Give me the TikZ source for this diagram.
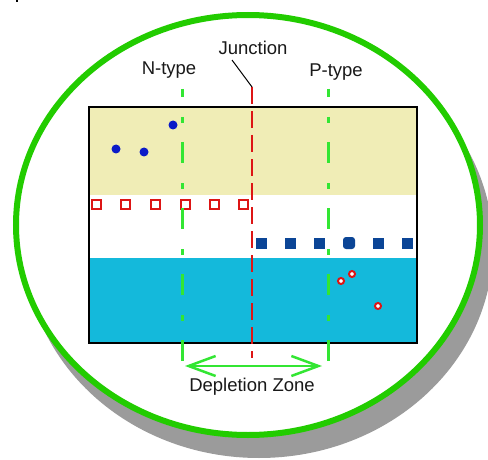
\documentclass[tikz,border=0pt]{standalone}
\usepackage{fontspec}
\setmainfont{Liberation Sans}
\usetikzlibrary{arrows.meta}
\definecolor{ringgreen}{HTML}{22CC00}
\definecolor{linegreen}{HTML}{33E633}
\definecolor{beige}{HTML}{F0EDB6}
\definecolor{cyanband}{HTML}{14B9DB}
\definecolor{holered}{HTML}{DD1515}
\definecolor{ionblue}{HTML}{0B4596}
\definecolor{eblue}{HTML}{0B1BC8}
\definecolor{shadowgray}{HTML}{9B9B9B}
\tikzset{
  lbl/.style={font=\fontsize{18.5}{20}\selectfont, text=black!90, inner sep=0pt, anchor=base},
  holesq/.style={draw=holered, line width=2pt, fill=white, minimum size=9pt, inner sep=0pt},
  ionsq/.style={fill=ionblue, minimum size=11pt, inner sep=0pt},
  electron/.style={circle, fill=eblue, minimum size=9pt, inner sep=0pt},
  hole/.style={circle, draw=holered, line width=2pt, fill=white, minimum size=6pt, inner sep=0pt},
  zoneline/.style={draw=linegreen, line width=3pt, dash pattern=on 21pt off 20pt on 6pt off 19pt, dash phase=13pt},
  junctionline/.style={draw=holered, line width=2.2pt, dash pattern=on 17pt off 7pt},
}
\begin{document}
\begin{tikzpicture}[x=1pt,y=-1pt]
\useasboundingbox (0,0) rectangle (488,460);
% stray mark
\fill[black] (16,0) rectangle (18,2);
% shadow + ring
\fill[shadowgray] (259,246) ellipse [x radius=234, y radius=212];
\draw[ringgreen, line width=6pt, fill=white] (248,225) ellipse [x radius=232, y radius=210];
% bands
\fill[beige] (89,107) rectangle (417,195);
\fill[cyanband] (89,258) rectangle (417,343);
\draw[black, line width=2pt] (89,107) rectangle (417,343);
% hole squares
\foreach \x/\n in {96/1,125/2,155/3,185/4,214/5,243/6}
  \node[holesq] (h\n) at (\x,204) {};
% ion squares
\foreach \x/\n in {261/1,290/2,319/3,378/5,407/6}
  \node[ionsq] (i\n) at (\x,243) {};
\node[ionsq, minimum size=12pt, rounded corners=3pt] (i4) at (349,243) {};
% electrons
\node[electron] (e1) at (116,149) {};
\node[electron] (e2) at (144,152) {};
\node[electron] (e3) at (173,125) {};
% holes
\node[hole] (p1) at (341,281) {};
\node[hole] (p2) at (352,274) {};
\node[hole] (p3) at (378,306) {};
% zone lines
\coordinate (zlt) at (182,89); \coordinate (zlb) at (182,361);
\coordinate (zrt) at (328,89); \coordinate (zrb) at (328,361);
\draw[zoneline] (zlt) -- (zlb);
\draw[zoneline] (zrt) -- (zrb);
% junction line
\coordinate (jt) at (252,87); \coordinate (jb) at (252,358);
\draw[junctionline] (jt) -- (jb);
% labels
\node[lbl] (ntype) at (169,75) {N-type};
\node[lbl] (ptype) at (336,77) {P-type};
\node[lbl] (junc) at (253,55) {Junction};
\node[lbl] (dep) at (252,391) {Depletion Zone};
% leader
\coordinate (leadstart) at (232,60);
\draw[black, line width=1pt] (leadstart) -- (jt);
% depletion arrow
\coordinate (dl) at (185,366); \coordinate (dr) at (322,366);
\draw[linegreen, line width=2.5pt, {Straight Barb[length=27pt,width=20pt,line width=2.5pt]}-{Straight Barb[length=27pt,width=20pt,line width=2.5pt]}] (dl) -- (dr);
\end{tikzpicture}
\end{document}
